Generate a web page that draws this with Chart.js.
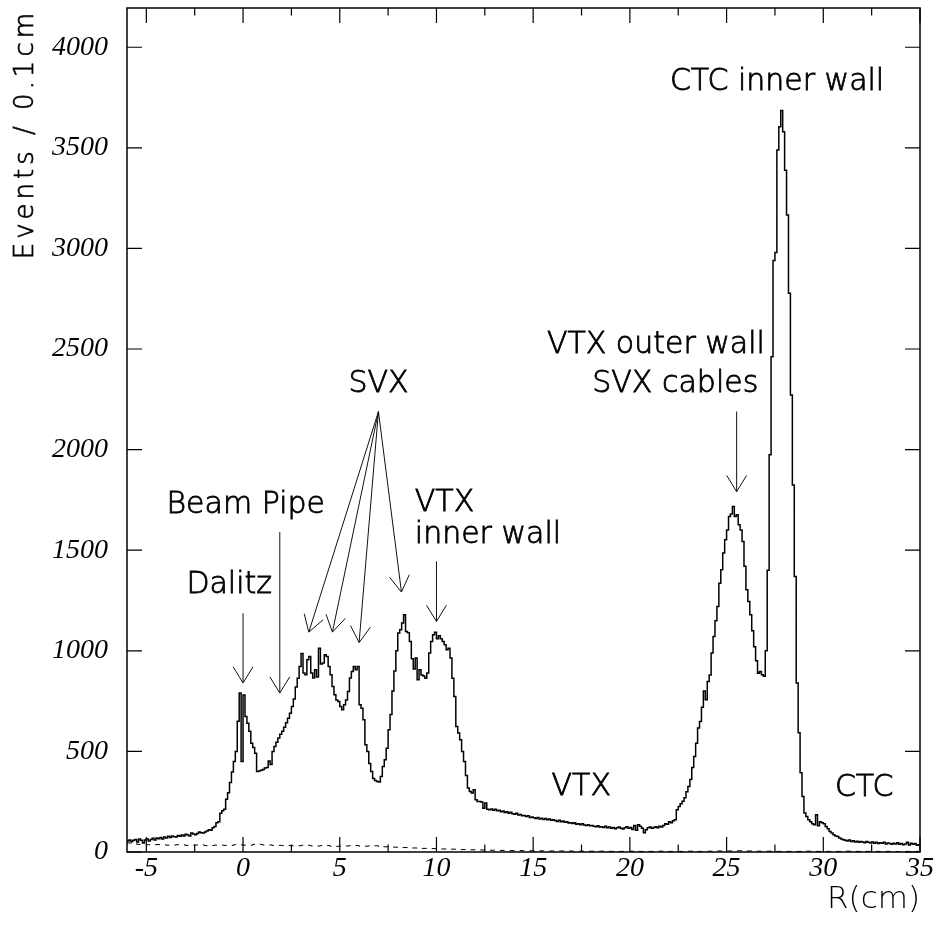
<!DOCTYPE html>
<html>
<head>
<meta charset="utf-8">
<script src="https://cdn.jsdelivr.net/npm/chart.js@4.4.0/dist/chart.umd.min.js"></script>
<style>
  html, body { margin: 0; padding: 0; background: #fff; }
  canvas { display: block; }
</style>
</head>
<body>
<canvas id="c" width="939" height="932"></canvas>
<script>
// ---------------- data ----------------
const binStart = -6.0;          // cm, low edge of first bin
const binWidth = 0.1;           // cm
// Events per 0.1 cm bin, R from -6.0 to 35.0 (10 bins per row)
const eventsPerBin = [
  55, 60, 52, 58, 62, 50, 65, 58, 45, 60,          // -6
  65, 55, 62, 68, 60, 70, 66, 72, 64, 75,          // -5
  70, 78, 72, 80, 76, 74, 82, 78, 85, 80,          // -4
  88, 84, 80, 95, 90, 86, 92, 100, 96, 95,         // -3
  100, 104, 110, 108, 120, 127, 145, 150, 193, 205,// -2
  212, 262, 295, 345, 398, 450, 500, 650, 790, 450,// -1
  780, 673, 640, 600, 541, 520, 491, 400, 402, 406,// 0
  410, 418, 420, 452, 435, 500, 524, 545, 567, 585,// 1
  600, 620, 642, 665, 690, 723, 760, 820, 864, 922,// 2
  986, 890, 881, 955, 972, 890, 865, 906, 870, 1013,// 3
  935, 940, 980, 972, 922, 881, 823, 781, 756, 748,// 4
  723, 707, 732, 756, 798, 865, 897, 922, 906, 922,// 5
  732, 715, 657, 533, 500, 440, 400, 365, 355, 350,// 6
  348, 375, 425, 458, 516, 608, 683, 800, 900, 1000,// 7
  1088, 1105, 1138, 1179, 1096, 1090, 1046, 960, 910, 964,// 8
  856, 906, 880, 875, 864, 890, 989, 1046, 1080, 1092,// 9
  1060, 1075, 1060, 1046, 1030, 1005, 1013, 964, 864, 773,// 10
  624, 591, 558, 500, 450, 380, 318, 301, 293, 309,// 11
  260, 251, 251, 248, 218, 243, 212, 210, 214, 208,// 12
  212, 205, 208, 200, 204, 196, 200, 192, 198, 190,// 13
  188, 192, 184, 186, 180, 182, 176, 180, 172, 174,// 14
  170, 166, 172, 164, 168, 162, 166, 160, 164, 158,// 15
  160, 156, 152, 158, 150, 154, 148, 150, 144, 146,// 16
  142, 146, 138, 140, 136, 140, 134, 132, 136, 130,// 17
  132, 128, 126, 130, 124, 126, 122, 128, 120, 124,// 18
  118, 122, 116, 120, 124, 118, 114, 120, 126, 118,// 19
  122, 112, 132, 108, 135, 128, 118, 96, 110, 120, // 20
  124, 118, 122, 126, 120, 128, 124, 132, 140, 138,// 21
  150, 145, 155, 160, 210, 226, 240, 252, 270, 300,// 22
  326, 360, 420, 475, 541, 616, 649, 720, 800, 757,// 23
  848, 880, 989, 1071, 1150, 1220, 1336, 1403, 1486, 1552,// 24
  1601, 1668, 1680, 1717, 1668, 1676, 1626, 1600, 1543, 1420,// 25
  1303, 1245, 1179, 1100, 1020, 950, 889, 897, 881, 873,// 26
  1000, 1400, 1974, 2462, 2940, 2980, 3489, 3605, 3685, 3580,// 27
  3389, 3166, 2777, 2271, 1824, 1369, 840, 593, 394, 276,// 28
  194, 177, 160, 150, 140, 136, 185, 130, 150, 145,// 29
  140, 127, 115, 102, 95, 86, 80, 77, 70, 65,      // 30
  61, 58, 55, 60, 52, 56, 50, 54, 48, 52,          // 31
  50, 46, 52, 48, 45, 50, 44, 48, 42, 46,          // 32
  44, 48, 40, 45, 42, 38, 44, 40, 46, 38,          // 33
  42, 36, 40, 48, 35, 44, 38, 42, 34, 36           // 34
];

// Dashed background histogram, 0.5 cm bins from -6.0
const bgBinWidth = 0.5;
const backgroundPerBin = [
  45, 38, 36, 37, 34, 36, 33, 35, 32, 34, 33, 36,
  34, 38, 35, 33, 32, 31, 33, 30, 32, 28, 30, 32,
  29, 31, 26, 24, 22, 20, 18, 17, 15, 14, 12, 11,
  10, 9, 8, 7, 7, 6, 6, 5, 5, 5, 4, 4,
  4, 4, 3, 3, 4, 3, 3, 4, 3, 3, 4, 3,
  4, 5, 5, 6, 5, 4, 4, 3, 3, 3, 4, 3,
  3, 3, 4, 3, 3, 3, 3, 2, 3, 3
];

const xMin = -6, xMax = 35, xTickStep = 5;
const yMin = 0, yMax = 4195, yTickStep = 500, yTickTop = 4000;
const xTitle = 'R(cm)';
const yTitle = 'Events / 0.1cm';

// ---------------- annotations (text + arrows, in data units) ----------------
const labelItems = [
  { text: 'Dalitz',         x: -2.93, y: 1287, align: 'left' },
  { text: 'Beam Pipe',      x: -3.96, y: 1684, align: 'left' },
  { text: 'SVX',            x: 7.0,   y: 2288, align: 'center' },
  { text: 'VTX',            x: 8.88,  y: 1693, align: 'left' },
  { text: 'inner wall',     x: 8.88,  y: 1535, align: 'left' },
  { text: 'VTX outer wall', x: 26.98, y: 2479, align: 'right' },
  { text: 'SVX cables',     x: 26.64, y: 2288, align: 'right' },
  { text: 'CTC inner wall', x: 22.07, y: 3787, align: 'left' },
  { text: 'VTX',            x: 15.95, y: 285,  align: 'left' },
  { text: 'CTC',            x: 30.6,  y: 276,  align: 'left' }
];
const arrowItems = [
  { from: [0.0, 1187],  to: [0.0, 840] },
  { from: [1.9, 1590],  to: [1.9, 790] },
  { from: [7.0, 2189],  to: [3.40, 1093] },
  { from: [7.0, 2189],  to: [4.62, 1093] },
  { from: [7.0, 2189],  to: [6.0, 1041] },
  { from: [7.0, 2189],  to: [8.19, 1292] },
  { from: [10.0, 1444], to: [10.0, 1146] },
  { from: [25.52, 2189], to: [25.52, 1791] }
];

// ---------------- build ----------------
function stepPoints(values, start, width) {
  const pts = values.map((v, i) => ({ x: +(start + i * width).toFixed(3), y: v }));
  pts.push({ x: +(start + values.length * width).toFixed(3), y: values[values.length - 1] });
  return pts;
}

const LABEL_FONT = '200 30px "DejaVu Sans"';

function drawText(ctx, text, px, py) {
  ctx.fillText(text, px, py);
  ctx.strokeText(text, px, py);
}

const decorPlugin = {
  id: 'decor',
  afterDraw(chart) {
    const { ctx, chartArea: a, scales: { x, y } } = chart;
    ctx.save();
    // frame
    ctx.strokeStyle = '#000';
    ctx.lineWidth = 1.5;
    ctx.strokeRect(a.left, a.top, a.right - a.left, a.bottom - a.top);
    // ticks (inward)
    ctx.lineWidth = 1.2;
    ctx.beginPath();
    x.ticks.forEach(t => {
      const px = x.getPixelForValue(t.value);
      ctx.moveTo(px, a.bottom); ctx.lineTo(px, a.bottom - 15);
      ctx.moveTo(px, a.top); ctx.lineTo(px, a.top + 15);
      const mv = t.value - xTickStep / 2;
      if (mv > x.min) {
        const mp = x.getPixelForValue(mv);
        ctx.moveTo(mp, a.bottom); ctx.lineTo(mp, a.bottom - 7.5);
        ctx.moveTo(mp, a.top); ctx.lineTo(mp, a.top + 7.5);
      }
    });
    y.ticks.forEach(t => {
      const py = y.getPixelForValue(t.value);
      ctx.moveTo(a.left, py); ctx.lineTo(a.left + 15, py);
      ctx.moveTo(a.right, py); ctx.lineTo(a.right - 15, py);
    });
    ctx.stroke();

    // arrows
    ctx.lineWidth = 1;
    ctx.strokeStyle = '#111';
    arrowItems.forEach(ar => {
      const x0 = x.getPixelForValue(ar.from[0]), y0 = y.getPixelForValue(ar.from[1]);
      const x1 = x.getPixelForValue(ar.to[0]), y1 = y.getPixelForValue(ar.to[1]);
      const ang = Math.atan2(y1 - y0, x1 - x0);
      const L = 19, half = 0.55;
      ctx.beginPath();
      ctx.moveTo(x0, y0); ctx.lineTo(x1, y1);
      ctx.moveTo(x1 - L * Math.cos(ang - half), y1 - L * Math.sin(ang - half));
      ctx.lineTo(x1, y1);
      ctx.lineTo(x1 - L * Math.cos(ang + half), y1 - L * Math.sin(ang + half));
      ctx.stroke();
    });

    // labels
    ctx.fillStyle = '#000';
    ctx.strokeStyle = '#000';
    ctx.lineWidth = 0.8;
    ctx.font = LABEL_FONT;
    ctx.textBaseline = 'alphabetic';
    labelItems.forEach(l => {
      ctx.textAlign = l.align;
      drawText(ctx, l.text, x.getPixelForValue(l.x), y.getPixelForValue(l.y));
    });

    // y-axis title (rotated, ending near top)
    ctx.save();
    ctx.translate(33, 9);
    ctx.rotate(-Math.PI / 2);
    ctx.font = '200 26px "DejaVu Sans"';
    try { ctx.letterSpacing = '4px'; } catch (e) {}
    ctx.textAlign = 'right';
    ctx.textBaseline = 'alphabetic';
    ctx.lineWidth = 0.7;
    drawText(ctx, yTitle, 0, 0);
    ctx.restore();

    ctx.restore();
  }
};

const tickFont = { family: '"Liberation Serif", "Times New Roman", serif', style: 'italic', size: 28 };
const plainLabel = v => String(v);

new Chart(document.getElementById('c').getContext('2d'), {
  type: 'line',
  data: {
    datasets: [
      {
        data: stepPoints(eventsPerBin, binStart, binWidth),
        stepped: true,
        borderColor: '#000',
        borderWidth: 1.5,
        pointRadius: 0,
        fill: false
      },
      {
        data: stepPoints(backgroundPerBin, binStart, bgBinWidth),
        stepped: true,
        borderColor: '#000',
        borderWidth: 1,
        borderDash: [5, 5],
        pointRadius: 0,
        fill: false
      }
    ]
  },
  options: {
    responsive: false,
    animation: false,
    devicePixelRatio: 1,
    layout: { padding: { left: 0, right: 19, top: 8, bottom: 0 } },
    plugins: { legend: { display: false }, tooltip: { enabled: false } },
    scales: {
      x: {
        type: 'linear',
        min: xMin, max: xMax,
        grid: { display: false, drawTicks: false },
        border: { display: false },
        ticks: {
          stepSize: xTickStep, includeBounds: false, padding: 0,
          color: '#000', font: tickFont, maxRotation: 0, autoSkip: false,
          callback: plainLabel
        },
        afterBuildTicks(s) {
          const t = [];
          for (let v = Math.ceil(xMin / xTickStep) * xTickStep; v <= xMax; v += xTickStep) t.push({ value: v });
          s.ticks = t;
        },
        title: {
          display: true, text: xTitle, align: 'end', color: '#000',
          font: { family: '"DejaVu Sans"', size: 31, weight: 300 },
          padding: { top: 0, bottom: 13 }
        },
        afterFit(s) { s.height = 80; s.paddingLeft = 0; s.paddingRight = 0; }
      },
      y: {
        type: 'linear',
        min: yMin, max: yMax,
        grid: { display: false, drawTicks: false },
        border: { display: false },
        ticks: {
          stepSize: yTickStep, includeBounds: false, padding: 19,
          color: '#000', font: tickFont, autoSkip: false,
          callback: plainLabel
        },
        afterBuildTicks(s) {
          const t = [];
          for (let v = yMin; v <= yTickTop; v += yTickStep) t.push({ value: v });
          s.ticks = t;
        },
        afterFit(s) { s.width = 127; s.paddingTop = 0; s.paddingBottom = 0; }
      }
    }
  },
  plugins: [decorPlugin]
});
</script>
</body>
</html>
